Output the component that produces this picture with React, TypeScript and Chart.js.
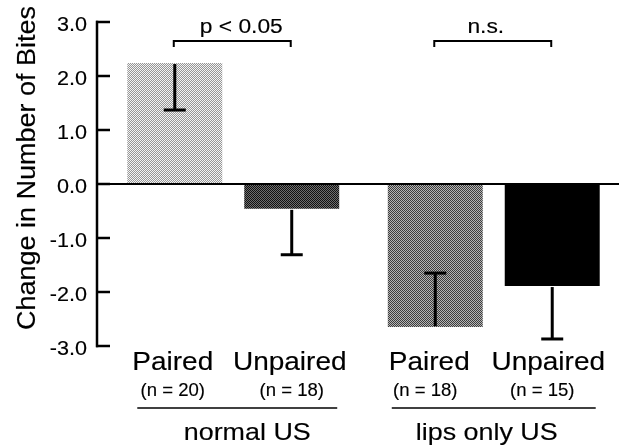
import React, { useEffect, useRef } from "react";
import { Chart, registerables } from "chart.js";

Chart.register(...registerables);

// ---- data ----
const groups = ["normal US", "lips only US"];
const conditions = ["Paired", "Unpaired"];
const pairedMeans = [2.24, -2.65];
const unpairedMeans = [-0.46, -1.89];
const pairedErrorEnds = [1.37, -1.65];
const unpairedErrorEnds = [-1.31, -2.87];
const pairedN = [20, 18];
const unpairedN = [18, 15];
const yTicks = [3, 2, 1, 0, -1, -2, -3];
const significance = ["p < 0.05", "n.s."];
const bracketLevel = 2.65;
const yTitle = "Change in Number of Bites";

const FONT = '"Liberation Sans", Arial, Helvetica, sans-serif';
const K = 1.12; // horizontal stretch of the lettering

function makePattern(size: number, fn: (x: number, y: number) => string) {
  const c = document.createElement("canvas");
  c.width = size;
  c.height = size;
  const g = c.getContext("2d")!;
  for (let y = 0; y < size; y++) {
    for (let x = 0; x < size; x++) {
      g.fillStyle = fn(x, y);
      g.fillRect(x, y, 1, 1);
    }
  }
  const main = document.createElement("canvas").getContext("2d")!;
  return main.createPattern(c, "repeat")!;
}

function txt(
  ctx: CanvasRenderingContext2D,
  s: string,
  x: number,
  y: number,
  size: number,
  align: CanvasTextAlign,
  k = K
) {
  ctx.save();
  ctx.font = `${size}px ${FONT}`;
  ctx.textAlign = align;
  ctx.textBaseline = "alphabetic";
  ctx.fillStyle = "#000";
  ctx.strokeStyle = "#000";
  ctx.lineWidth = 0.15;
  ctx.translate(x, y);
  ctx.scale(k, 1);
  ctx.fillText(s, 0, 0);
  ctx.strokeText(s, 0, 0);
  ctx.restore();
}

function line(ctx: CanvasRenderingContext2D, x1: number, y1: number, x2: number, y2: number, w: number) {
  ctx.save();
  ctx.strokeStyle = "#000";
  ctx.lineWidth = w;
  ctx.lineCap = "butt";
  ctx.beginPath();
  ctx.moveTo(x1, y1);
  ctx.lineTo(x2, y2);
  ctx.stroke();
  ctx.restore();
}

const decorPlugin = {
  id: "decor",
  afterDatasetsDraw(chart: any) {
    const ctx: CanvasRenderingContext2D = chart.ctx;
    const ys = chart.scales.y;
    const area = chart.chartArea;
    const axisX = area.left - 6;
    const Y = (v: number) => ys.getPixelForValue(v);

    // zero line
    line(ctx, axisX, Y(0), area.right - 5, Y(0), 2);

    // y axis with inward ticks
    line(ctx, axisX, Y(yTicks[0]) - 1.2, axisX, Y(yTicks[yTicks.length - 1]) + 1.2, 2.5);
    yTicks.forEach((t) => {
      const py = Y(t);
      line(ctx, axisX - 1, py, axisX + 13, py, 2.5);
      txt(ctx, t.toFixed(1), axisX - 10, py + 8.5, 20, "right", 1.08);
    });

    // y title
    ctx.save();
    ctx.translate(area.left - 68, (Y(3) + Y(-3)) / 2 - 16);
    ctx.rotate(-Math.PI / 2);
    txt(ctx, yTitle, 0, 0, 25, "center", 1.08);
    ctx.restore();

    const m0 = chart.getDatasetMeta(0);
    const m1 = chart.getDatasetMeta(1);
    const errs = [pairedErrorEnds, unpairedErrorEnds];
    const means = [pairedMeans, unpairedMeans];
    const ns = [pairedN, unpairedN];
    const nShift = [
      [-2, 0],
      [-10, -10],
    ];
    const labelShift = [
      [-2, -2],
      [-6, -4],
    ];

    [m0, m1].forEach((meta: any, d: number) => {
      meta.data.forEach((el: any, j: number) => {
        const x = el.x;
        const yA = Y(means[d][j]);
        const yB = Y(errs[d][j]);
        const dir = yB > yA ? 1 : -1;
        line(ctx, x, yA + dir * 1, x, yB, 3);
        line(ctx, x - 11, yB, x + 11, yB, 3);
        // category label
        txt(ctx, conditions[d], x + labelShift[j][d], 370, 25, "center");
        txt(ctx, `(n = ${ns[d][j]})`, x + nShift[j][d], 396, 18, "center", 1.03);
      });
    });

    groups.forEach((g, j) => {
      const a = m0.data[j];
      const b = m1.data[j];
      // significance bracket
      const by = Y(bracketLevel);
      ctx.save();
      ctx.strokeStyle = "#000";
      ctx.lineWidth = 2;
      ctx.beginPath();
      ctx.moveTo(a.x - 1, by + 6);
      ctx.lineTo(a.x - 1, by);
      ctx.lineTo(b.x - 1, by);
      ctx.lineTo(b.x - 1, by + 6);
      ctx.stroke();
      ctx.restore();
      const mid = (a.x + b.x) / 2;
      txt(ctx, significance[j], mid + (j === 0 ? 8 : -8), 33, 20, "center", 1.14);

      // group underline and label
      const l = a.x - a.width / 2 + (j === 0 ? 10 : 4);
      const r = b.x + b.width / 2 - (j === 0 ? 2 : 4);
      line(ctx, l, 408, r, 408, 1.5);
      txt(ctx, g, (l + r) / 2 + (j === 0 ? 10 : -7), 440, 24, "center");
    });
  },
};

export default function App() {
  const ref = useRef<HTMLCanvasElement>(null);
  useEffect(() => {
    const light = makePattern(2, (x, y) => ((x + y) % 2 === 0 ? "#f4f4f4" : "#969696"));
    const dark = makePattern(2, (x, y) => ((x + y) % 2 === 0 ? "#111111" : "#6e6e6e"));
    const medium = makePattern(2, (x, y) => ((x + y) % 2 === 0 ? "#3c3c3c" : "#b4b4b4"));
    const chart = new Chart(ref.current!, {
      type: "bar",
      data: {
        labels: groups,
        datasets: [
          {
            label: conditions[0],
            data: pairedMeans,
            backgroundColor: [light, medium] as any,
            borderWidth: 0,
          },
          {
            label: conditions[1],
            data: unpairedMeans,
            backgroundColor: [dark, "#000000"] as any,
            borderWidth: 0,
          },
        ],
      },
      options: {
        animation: false,
        responsive: false,
        events: [],
        layout: { padding: { left: 103, right: 0, top: 22, bottom: 101 } },
        datasets: { bar: { categoryPercentage: 0.898, barPercentage: 0.812 } },
        plugins: { legend: { display: false }, tooltip: { enabled: false } },
        scales: {
          x: { display: false },
          y: { display: false, min: -3, max: 3 },
        },
      },
      plugins: [decorPlugin],
    });
    return () => chart.destroy();
  }, []);
  return (
    <div style={{ position: "fixed", left: 0, top: 0, width: 624, height: 447, background: "#fff" }}>
      <canvas ref={ref} width={624} height={447} style={{ display: "block" }} />
    </div>
  );
}
